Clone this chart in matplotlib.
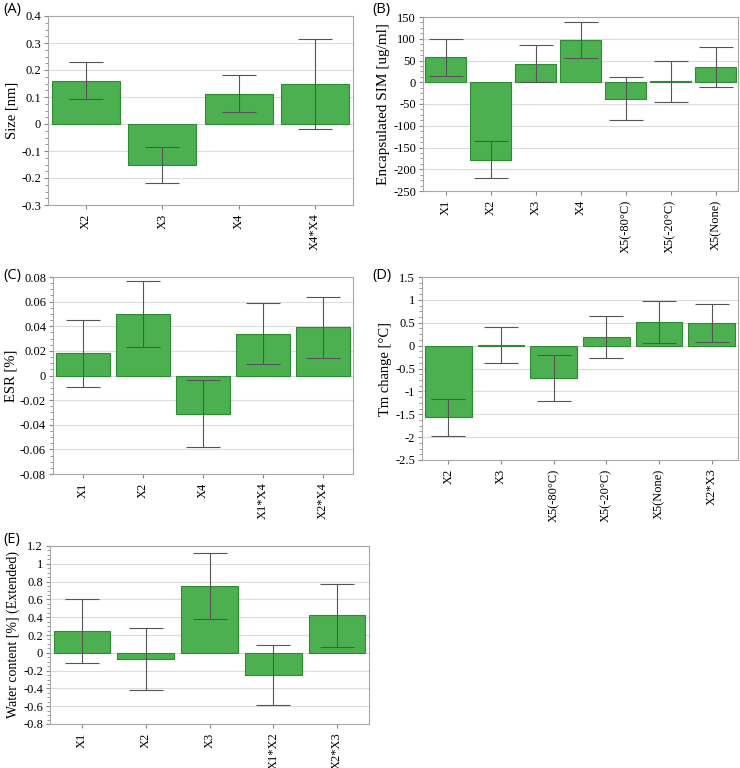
import matplotlib
matplotlib.use("Agg")
import matplotlib.pyplot as plt
from matplotlib.ticker import MultipleLocator, AutoMinorLocator

# ---- data ----
a_terms = ["X2", "X3", "X4", "X4*X4"]
a_vals = [0.160, -0.152, 0.112, 0.148]
a_err = [0.068, 0.068, 0.068, 0.168]

b_terms = ["X1", "X2", "X3", "X4", "X5(-80°C)", "X5(-20°C)", "X5(None)"]
b_vals = [57, -178, 43, 97, -38, 2, 35]
b_err = [43, 42, 42, 42, 49, 48, 47]

c_terms = ["X1", "X2", "X4", "X1*X4", "X2*X4"]
c_vals = [0.018, 0.050, -0.031, 0.034, 0.039]
c_err = [0.027, 0.027, 0.027, 0.025, 0.025]

d_terms = ["X2", "X3", "X5(-80°C)", "X5(-20°C)", "X5(None)", "X2*X3"]
d_vals = [-1.57, 0.01, -0.71, 0.19, 0.52, 0.49]
d_err = [0.41, 0.40, 0.50, 0.46, 0.46, 0.41]

e_terms = ["X1", "X2", "X3", "X1*X2", "X2*X3"]
e_vals = [0.25, -0.07, 0.75, -0.25, 0.42]
e_err = [0.36, 0.35, 0.37, 0.34, 0.35]

W, H = 740, 768
fig = plt.figure(figsize=(W / 100, H / 100), dpi=100)

serif = "Liberation Serif"
green = "#4caf50"
edge = "#2f8a36"


def panel(box, letter, label_y, terms, vals, err, ylim, step, ylabel, ysize=10.5):
    l, r, t, b = box
    ax = fig.add_axes([l / W, 1 - b / H, (r - l) / W, (b - t) / H])
    x = range(len(terms))
    ax.bar(x, vals, width=0.89, color=green, edgecolor=edge, linewidth=0.8, zorder=2)
    ax.errorbar(x, vals, yerr=err, fmt="none", ecolor="#555555", elinewidth=0.8,
                capsize=12.5, capthick=0.8, zorder=3)
    ax.set_xlim(-0.5, len(terms) - 0.5)
    ax.set_ylim(*ylim)
    ax.yaxis.set_major_locator(MultipleLocator(step))
    ax.yaxis.set_minor_locator(AutoMinorLocator(4))
    ax.grid(axis="y", color="#dcdcdc", linewidth=0.8, zorder=0)
    ax.set_axisbelow(True)
    ax.set_xticks(list(x))
    ax.set_xticklabels(terms, rotation=90, family=serif, fontsize=9)
    ax.yaxis.set_major_formatter(plt.FuncFormatter(lambda v, p: "%g" % round(v, 6)))
    for lab in ax.get_yticklabels():
        lab.set_family(serif)
        lab.set_fontsize(9)
    ax.tick_params(axis="both", which="both", colors="#888888", labelcolor="black")
    ax.tick_params(axis="x", length=3, pad=3)
    ax.tick_params(axis="y", which="major", length=3, pad=2)
    ax.tick_params(axis="y", which="minor", length=2)
    for s in ax.spines.values():
        s.set_color("#a8a8a8")
        s.set_linewidth(0.8)
    ax.set_ylabel(ylabel, family=serif, fontsize=ysize, labelpad=2)
    fig.text((3 if l < 370 else 372) / W, 1 - label_y / H, letter,
             family="Open Sans", fontsize=10.5, va="center", ha="left")
    return ax


panel((48, 353, 16, 205), "(A)", 10, a_terms, a_vals, a_err, (-0.3, 0.4), 0.1, "Size [nm]")
panel((423, 738, 17, 191), "(B)", 9, b_terms, b_vals, b_err, (-250, 150), 50,
      "Encapsulated SIM [ug/ml]", 11)
panel((53, 353, 277, 474), "(C)", 276, c_terms, c_vals, c_err, (-0.08, 0.08), 0.02, "ESR [%]")
panel((422, 738, 277, 460), "(D)", 276, d_terms, d_vals, d_err, (-2.5, 1.5), 0.5, "Tm change [°C]")
panel((50, 369, 546, 724), "(E)", 540, e_terms, e_vals, e_err, (-0.8, 1.2), 0.2,
      "Water content [%] (Extended)", 10)

fig.savefig("out.png", dpi=100, facecolor="white")
